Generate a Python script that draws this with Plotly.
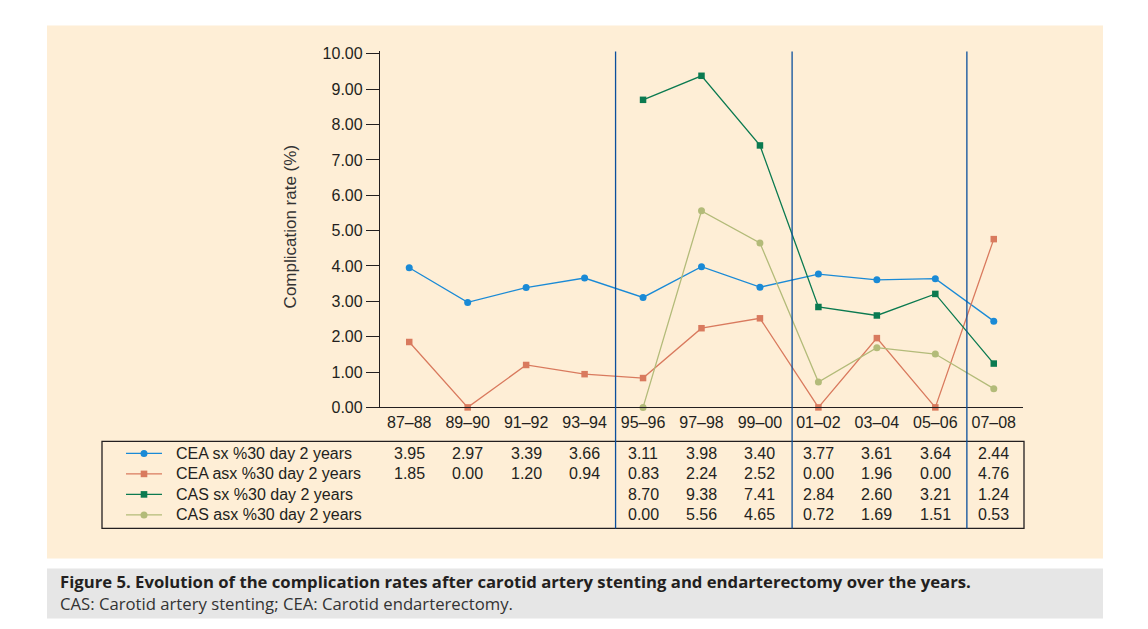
import plotly.graph_objects as go

# ---------------- data ----------------
periods = ["87–88", "89–90", "91–92", "93–94", "95–96", "97–98",
           "99–00", "01–02", "03–04", "05–06", "07–08"]
cea_sx = [3.95, 2.97, 3.39, 3.66, 3.11, 3.98, 3.40, 3.77, 3.61, 3.64, 2.44]
cea_asx = [1.85, 0.00, 1.20, 0.94, 0.83, 2.24, 2.52, 0.00, 1.96, 0.00, 4.76]
cas_sx = [None, None, None, None, 8.70, 9.38, 7.41, 2.84, 2.60, 3.21, 1.24]
cas_asx = [None, None, None, None, 0.00, 5.56, 4.65, 0.72, 1.69, 1.51, 0.53]
series_names = ["CEA sx %30 day 2 years", "CEA asx %30 day 2 years",
                "CAS sx %30 day 2 years", "CAS asx %30 day 2 years"]
y_ticks = [0, 1, 2, 3, 4, 5, 6, 7, 8, 9, 10]
separators = [3.53, 6.55, 9.54]  # era boundaries between categories

# ---------------- styling ----------------
W, H = 1148, 629
# the viewer maps layout y to picture y as  A + B*y ; compensate for it
A_OFF, B_SCALE = 5.6, 614 / 629
FONT = "Liberation Sans, Arial, sans-serif"
CAPFONT = "Open Sans, Noto Sans, sans-serif"
TXT = "#231f20"
colors = ["#1a8ad6", "#d97a5e", "#0b7a50", "#b3bb79"]
symbols = ["circle", "square", "square", "circle"]
msizes = [7, 6.5, 6.5, 7]
series = [cea_sx, cea_asx, cas_sx, cas_asx]


def px(x):
    return x / W


def py(y):
    return 1 - ((y - A_OFF) / B_SCALE) / H


fig = go.Figure()
idx = list(range(len(periods)))
for name, vals, c, s, ms in zip(series_names, series, colors, symbols, msizes):
    fig.add_trace(go.Scatter(
        x=idx, y=vals, mode="lines+markers", name=name,
        line=dict(color=c, width=1.3),
        marker=dict(color=c, symbol=s, size=ms),
        cliponaxis=False, connectgaps=False, showlegend=False))

shapes = []
# beige panel & caption panel
shapes.append(dict(type="rect", xref="paper", yref="paper", layer="below",
                   x0=px(47), x1=px(1103), y0=py(558), y1=py(25),
                   fillcolor="#feeed6", line=dict(width=0)))
shapes.append(dict(type="rect", xref="paper", yref="paper", layer="below",
                   x0=px(47), x1=px(1103), y0=py(618), y1=py(568),
                   fillcolor="#e6e6e6", line=dict(width=0)))
# table box
shapes.append(dict(type="rect", xref="paper", yref="paper",
                   x0=px(102), x1=px(1024), y0=py(528), y1=py(441),
                   line=dict(color="#231f20", width=1.3)))
# era separators
for s in separators:
    shapes.append(dict(type="line", xref="x", yref="paper",
                       x0=s, x1=s, y0=py(528), y1=py(51),
                       line=dict(color="#0b4f9c", width=1.3)))

row_y = [453, 473.5, 494, 514.5]
annotations = []
for r, (name, vals, c, s) in enumerate(zip(series_names, series, colors, symbols)):
    yy = row_y[r]
    # legend swatch
    shapes.append(dict(type="line", xref="paper", yref="paper",
                       x0=px(126), x1=px(162), y0=py(yy), y1=py(yy),
                       line=dict(color=c, width=1.3)))
    rr = 3.5 if s == "circle" else 3.3
    shapes.append(dict(type="circle" if s == "circle" else "rect",
                       xref="paper", yref="paper",
                       x0=px(144 - rr), x1=px(144 + rr),
                       y0=py(yy + rr), y1=py(yy - rr),
                       fillcolor=c, line=dict(width=0)))
    annotations.append(dict(text=name, xref="paper", yref="paper",
                            x=px(174), y=py(yy), xanchor="left", yanchor="middle",
                            showarrow=False, font=dict(family=FONT, size=16, color=TXT)))
    for i, v in enumerate(vals):
        if v is None:
            continue
        annotations.append(dict(text=f"{v:.2f}", xref="x", yref="paper",
                                x=i, y=py(yy), xanchor="center", yanchor="middle",
                                showarrow=False,
                                font=dict(family=FONT, size=16, color=TXT)))

# y axis title
annotations.append(dict(text="Complication rate (%)", xref="paper", yref="paper",
                        x=px(290), y=py(227), textangle=-90,
                        xanchor="center", yanchor="middle", showarrow=False,
                        font=dict(family=FONT, size=17, color="#333333")))
# caption (two lines in one block)
annotations.append(dict(
    text=("<b>Figure 5. Evolution of the complication rates after carotid artery "
          "stenting and endarterectomy over the years.</b><br>"
          "<span style='color:#333333'>CAS: Carotid artery stenting; "
          "CEA: Carotid endarterectomy.</span>"),
    xref="paper", yref="paper", x=px(58), y=py(592.5), xanchor="left",
    yanchor="middle", align="left", showarrow=False,
    font=dict(family=CAPFONT, size=16.7, color="#231f20")))

fig.update_layout(
    width=W, height=H, autosize=False,
    margin=dict(l=0, r=0, t=0, b=0, pad=0),
    paper_bgcolor="white", plot_bgcolor="white",
    shapes=shapes, annotations=annotations,
    xaxis=dict(domain=[px(380), px(1023)], range=[-0.5, 10.5],
               tickmode="array", tickvals=idx, ticktext=periods,
               showgrid=False, zeroline=False, showline=True,
               linecolor="#231f20", linewidth=1.3, ticks="",
               tickfont=dict(family=FONT, size=16, color=TXT)),
    yaxis=dict(domain=[py(407), py(51)], range=[0, 10.07],
               tickmode="array", tickvals=y_ticks,
               ticktext=[f"{t:.2f}" for t in y_ticks],
               showgrid=False, zeroline=False, showline=True,
               linecolor="#231f20", linewidth=1.3, ticks="outside",
               ticklen=13, tickcolor="#231f20", tickwidth=1.2,
               tickfont=dict(family=FONT, size=16, color=TXT)),
)

fig.write_html(
    "out.html",
    config={"responsive": False, "displayModeBar": False},
    post_script=("document.documentElement.style.margin='0';"
                 "document.body.style.margin='0';"
                 "document.documentElement.style.overflow='hidden';"
                 "document.body.style.overflow='hidden';"))
